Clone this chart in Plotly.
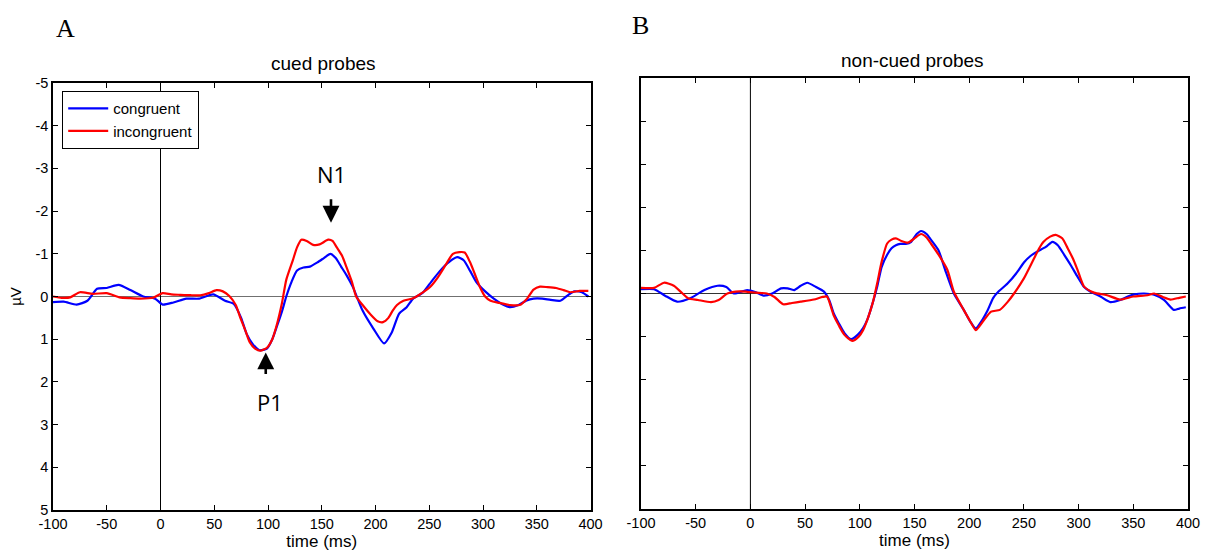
import plotly.graph_objects as go

# ---------------- data ----------------
cued_cong_t = [-100, -90, -78, -68, -59, -50, -39, -28, -16, -5, 2, 12, 24, 36, 49, 60, 68, 75, 80, 86, 92, 99, 104, 108, 113, 117, 122, 127, 133, 139, 146, 152, 158, 163, 168, 173, 179, 188, 198, 208, 215, 222, 229, 235, 244, 252, 260, 268, 276, 282, 288, 294, 302, 310, 318, 325, 333, 340, 347, 355, 363, 372, 380, 385, 392, 398]
cued_cong_v = [0.13, 0.12, 0.19, 0.1, -0.18, -0.2, -0.27, -0.15, 0.0, 0.05, 0.19, 0.14, 0.05, 0.05, -0.05, 0.1, 0.17, 0.5, 0.87, 1.12, 1.26, 1.22, 1.0, 0.72, 0.35, 0.0, -0.35, -0.61, -0.68, -0.70, -0.8, -0.9, -1.0, -0.9, -0.7, -0.5, -0.22, 0.33, 0.75, 1.1, 0.85, 0.4, 0.25, 0.05, -0.09, -0.35, -0.6, -0.8, -0.92, -0.85, -0.6, -0.33, -0.12, 0.05, 0.18, 0.25, 0.2, 0.1, 0.05, 0.05, 0.08, 0.1, -0.05, -0.12, -0.1, 0.0]

cued_incong_t = [-100, -92, -84, -75, -63, -50, -38, -28, -19, -7, 2, 10, 18, 28, 37, 45, 52, 58, 64, 70, 74, 79, 83, 88, 93, 99, 104, 108, 113, 117, 123, 127, 131, 136, 142, 148, 156, 160, 164, 169, 173, 178, 182, 188, 195, 202, 207, 212, 216, 220, 226, 235, 243, 251, 258, 266, 272, 278, 283, 288, 292, 297, 302, 307, 315, 325, 334, 341, 347, 353, 360, 368, 375, 381, 390, 398]
cued_incong_v = [0.0, 0.03, 0.02, -0.1, -0.06, -0.08, 0.02, 0.04, 0.05, 0.03, -0.08, -0.05, -0.04, -0.03, -0.03, -0.08, -0.15, -0.12, -0.01, 0.2, 0.48, 0.8, 1.07, 1.22, 1.27, 1.2, 1.0, 0.68, 0.15, -0.39, -0.84, -1.15, -1.33, -1.3, -1.21, -1.22, -1.33, -1.3, -1.15, -0.95, -0.69, -0.35, 0.0, 0.2, 0.41, 0.58, 0.6, 0.5, 0.33, 0.2, 0.1, 0.04, -0.08, -0.23, -0.45, -0.77, -1.0, -1.04, -1.03, -0.8, -0.55, -0.23, 0.0, 0.1, 0.15, 0.2, 0.2, 0.05, -0.16, -0.23, -0.22, -0.2, -0.15, -0.1, -0.13, -0.13]

noncued_cong_t = [-100, -88, -78, -67, -55, -42, -30, -22, -15, -3, 5, 12, 20, 28, 34, 40, 46, 52, 60, 67, 72, 76, 81, 86, 92, 98, 103, 107, 112, 116, 120, 125, 129, 133, 137, 142, 147, 152, 156, 161, 165, 172, 178, 186, 195, 201, 206, 211, 217, 222, 227, 235, 244, 250, 256, 262, 270, 276, 281, 287, 293, 299, 305, 311, 320, 329, 338, 345, 351, 360, 369, 378, 387, 392, 398]
noncued_cong_v = [-0.1, -0.1, 0.05, 0.19, 0.11, -0.08, -0.18, -0.15, 0.0, -0.08, -0.03, 0.05, 0.0, -0.12, -0.12, -0.08, -0.18, -0.25, -0.15, -0.05, 0.15, 0.45, 0.7, 0.92, 1.06, 0.96, 0.8, 0.6, 0.2, -0.17, -0.62, -0.9, -1.05, -1.12, -1.15, -1.15, -1.2, -1.38, -1.45, -1.38, -1.25, -1.0, -0.55, 0.0, 0.38, 0.65, 0.81, 0.65, 0.38, 0.1, -0.05, -0.23, -0.5, -0.72, -0.87, -0.97, -1.08, -1.2, -1.12, -0.89, -0.65, -0.39, -0.15, -0.04, 0.07, 0.2, 0.15, 0.07, 0.02, 0.0, 0.03, 0.15, 0.38, 0.35, 0.32]

noncued_incong_t = [-100, -88, -79, -70, -62, -57, -48, -36, -29, -21, -10, -3, 5, 15, 22, 30, 38, 46, 58, 66, 70, 76, 81, 86, 93, 99, 103, 107, 112, 116, 120, 125, 129, 133, 138, 144, 150, 156, 161, 165, 172, 180, 186, 195, 201, 206, 210, 214, 220, 228, 235, 241, 250, 259, 264, 268, 274, 279, 285, 290, 295, 299, 305, 314, 326, 338, 350, 363, 369, 377, 384, 392, 398]
noncued_incong_v = [-0.13, -0.13, -0.25, -0.18, 0.0, 0.11, 0.15, 0.2, 0.15, 0.0, -0.05, -0.04, -0.02, 0.0, 0.08, 0.25, 0.22, 0.19, 0.14, 0.08, 0.07, 0.5, 0.75, 0.96, 1.1, 1.0, 0.85, 0.6, 0.2, -0.25, -0.74, -1.16, -1.25, -1.28, -1.22, -1.18, -1.28, -1.38, -1.3, -1.16, -0.9, -0.55, -0.04, 0.38, 0.65, 0.85, 0.74, 0.6, 0.42, 0.38, 0.2, 0.0, -0.35, -0.8, -1.05, -1.2, -1.32, -1.36, -1.28, -1.05, -0.8, -0.55, -0.16, -0.02, 0.04, 0.14, 0.07, 0.04, 0.0, 0.08, 0.14, 0.1, 0.07]

x_ticks = [-100, -50, 0, 50, 100, 150, 200, 250, 300, 350, 400]
x_tick_labels = ["-100", "-50", "0", "50", "100", "150", "200", "250", "300", "350", "400"]
y_ticks = [-5, -4, -3, -2, -1, 0, 1, 2, 3, 4, 5]
y_tick_labels = ["-5", "-4", "-3", "-2", "-1", "0", "1", "2", "3", "4", "5"]

series_names = ["congruent", "incongruent"]
BLUE = "#0000FF"
RED = "#FF0000"

W, H = 1208, 553
FONT = "Liberation Sans, Arial, sans-serif"

fig = go.Figure()

LINE = dict(width=2.2, shape="spline", smoothing=0.6)
fig.add_trace(go.Scatter(x=cued_cong_t, y=cued_cong_v, mode="lines", name=series_names[0],
                         line=dict(color=BLUE, **LINE), xaxis="x", yaxis="y", showlegend=True))
fig.add_trace(go.Scatter(x=cued_incong_t, y=cued_incong_v, mode="lines", name=series_names[1],
                         line=dict(color=RED, **LINE), xaxis="x", yaxis="y", showlegend=True))
fig.add_trace(go.Scatter(x=noncued_cong_t, y=noncued_cong_v, mode="lines", name=series_names[0],
                         line=dict(color=BLUE, **LINE), xaxis="x2", yaxis="y2", showlegend=False))
fig.add_trace(go.Scatter(x=noncued_incong_t, y=noncued_incong_v, mode="lines", name=series_names[1],
                         line=dict(color=RED, **LINE), xaxis="x2", yaxis="y2", showlegend=False))

TICKFONT = dict(family=FONT, size=14.5, color="black")


def xax(domain, anchor, title):
    return dict(domain=domain, anchor=anchor, range=[-100, 400], tickmode="array",
                tickvals=x_ticks, ticktext=x_tick_labels, ticks="inside", ticklen=5,
                tickwidth=1.2, tickcolor="black", showline=True, linecolor="black",
                linewidth=1.5, mirror="ticks", showgrid=False, zeroline=False,
                automargin=False, tickfont=TICKFONT,
                title=dict(text=title, font=dict(family=FONT, size=17, color="black"), standoff=0))


def yax(domain, anchor, labels, title):
    d = dict(domain=domain, anchor=anchor, range=[5, -5], tickmode="array",
             tickvals=y_ticks, ticktext=y_tick_labels if labels else [""] * len(y_ticks),
             showticklabels=labels, ticks="inside", ticklen=5, tickwidth=1.2, tickcolor="black",
             showline=True, linecolor="black", linewidth=1.5, mirror="ticks",
             showgrid=False, zeroline=False, automargin=False, tickfont=TICKFONT)
    if title:
        d["title"] = dict(text=title, font=dict(family=FONT, size=15, color="black"), standoff=10)
    return d


fig.update_layout(
    width=W, height=H,
    margin=dict(l=0, r=0, t=0, b=0, autoexpand=False),
    paper_bgcolor="white", plot_bgcolor="white",
    xaxis=xax([53 / W, 590.5 / W], "y", "time (ms)"),
    yaxis=yax([1 - 510 / H, 1 - 83 / H], "x", True, "µV"),
    xaxis2=xax([641 / W, 1188 / W], "y2", "time (ms)"),
    yaxis2=yax([1 - 509 / H, 1 - 78 / H], "x2", False, None),
    legend=dict(x=62 / W, y=1 - 91 / H, xanchor="left", yanchor="top",
                bordercolor="black", borderwidth=1.2, bgcolor="white",
                font=dict(family=FONT, size=15, color="black"),
                tracegroupgap=0, itemwidth=40),
    showlegend=True,
)

# zero lines and stimulus onset lines
for xr, yr, zc in (("x", "y", "#707070"), ("x2", "y2", "#333333")):
    fig.add_shape(type="line", xref=xr, yref=yr, x0=-100, x1=400, y0=0, y1=0,
                  line=dict(color=zc, width=1.2), layer="below")
    fig.add_shape(type="line", xref=xr, yref=yr, x0=0, x1=0, y0=-5, y1=5,
                  line=dict(color="black", width=1), layer="below")


def label(text, x, y, size, family, xref="paper", yref="paper"):
    fig.add_annotation(text=text, xref=xref, yref=yref, x=x, y=y, showarrow=False,
                       xanchor="center", yanchor="middle",
                       font=dict(family=family, size=size, color="black"))


# panel titles
label("cued probes", 323 / W, 1 - 64 / H, 19, FONT)
label("non-cued probes", 912 / W, 1 - 60 / H, 19, FONT)
# panel letters
SERIF = "Liberation Serif, Times New Roman, serif"
label("A", 65 / W, 1 - 28 / H, 26, SERIF)
label("B", 640 / W, 1 - 26 / H, 26, SERIF)

# peak labels
LBL = "Open Sans, Noto Sans, sans-serif"
label("N1", 158.6, -2.88, 22, LBL, "x", "y")
fig.add_annotation(text="", xref="x", yref="y", x=158.6, y=-1.73, ax=0, ay=-25,
                   showarrow=True, arrowhead=2, arrowsize=1.3, arrowwidth=2.6, arrowcolor="black")
label("P1", 101.9, 2.48, 22, LBL, "x", "y")
fig.add_annotation(text="", xref="x", yref="y", x=97.9, y=1.31, ax=0, ay=23,
                   showarrow=True, arrowhead=2, arrowsize=1.3, arrowwidth=2.6, arrowcolor="black")

fig.write_html("out.html", config={"displayModeBar": False},
               post_script="document.body.style.margin='0';document.body.style.overflow='hidden';")
